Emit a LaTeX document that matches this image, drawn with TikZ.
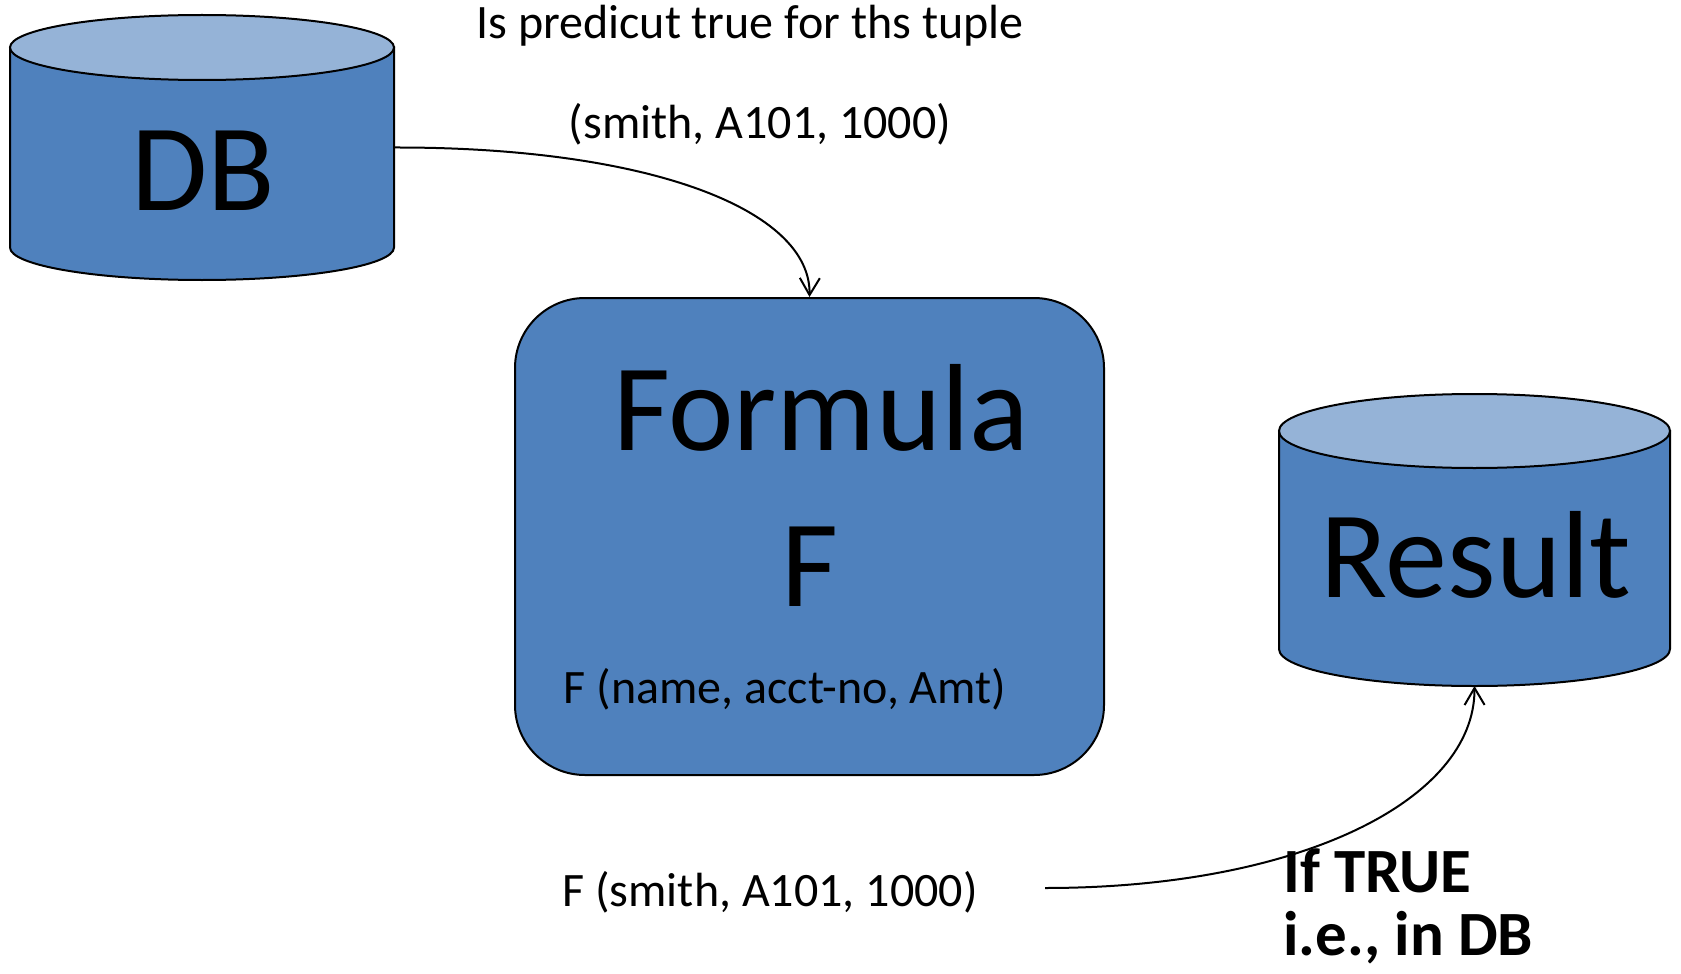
\documentclass[tikz,border=0pt]{standalone}
\usepackage{fontspec}
\setmainfont{Carlito}
\usetikzlibrary{arrows.meta}

\definecolor{dbblue}{HTML}{4F81BD}
\definecolor{dbtop}{HTML}{95B3D7}

\tikzset{
  store/.style={inner sep=0pt, outer sep=0pt},
  formulabox/.style={draw=black, line width=1pt, fill=dbblue, rounded corners=35pt,
    minimum width=294.5pt, minimum height=238.5pt},
  bigtext/.style={font=\fontsize{62}{78}\selectfont, inner sep=0pt},
  note/.style={font=\fontsize{24}{29}\selectfont, inner sep=0pt},
  verdict/.style={font=\fontsize{31.5}{31.5}\selectfont\bfseries, inner sep=0pt, align=left},
  link/.style={-{Straight Barb[length=8.5pt,width=10pt]}, line width=1pt},
}

% cylinder drawn over a store node: node name, half width, end radius
\newcommand{\storeshape}[3]{%
  \draw[line width=1pt, fill=dbblue] ([yshift=-#3]#1.north west) -- ([yshift=#3]#1.south west)
    arc[start angle=180, end angle=360, x radius=#2, y radius=#3]
    -- ([yshift=-#3]#1.north east) -- cycle;
  \draw[line width=1pt, fill=dbtop] ([yshift=-#3]#1.north) ellipse[x radius=#2, y radius=#3];
}

\begin{document}
\begin{tikzpicture}[x=0.5pt,y=-0.5pt]
\useasboundingbox (0,0) rectangle (1681,974);

% the two tables
\node[store, minimum width=192pt, minimum height=132.5pt] (db) at (202,147.5) {};
\node[store, minimum width=195.5pt, minimum height=146pt] (result) at (1474.5,540) {};
\storeshape{db}{96pt}{16.25pt}
\storeshape{result}{97.75pt}{18.5pt}
\node[bigtext, anchor=base] (dbname) at (203,210) {DB};
\node[bigtext, anchor=base] (resultname) at (1476,597) {Result};

% the formula
\node[formulabox] (formula) at (809.5,536.5) {};
\node[bigtext, anchor=base] (formulaname) at (821,450) {Formula};
\node[bigtext, anchor=base] (fname) at (810,606) {F};
\node[note] (signature) at (785,689) {F (name, acct-no, Amt)};

% texts
\node[note] (question) at (750,26) {Is predicut true for ths tuple};
\node[note] (tuple) at (760,124) {(smith, A101, 1000)};
\node[note] (call) at (770,892) {F (smith, A101, 1000)};
\node[verdict, anchor=base west] (verdict) at (1283,955) {If TRUE\\i.e., in DB};

% arrows
\coordinate (tail) at (1045,888);
\draw[link] (db.east) .. controls (650,147) and (811,210) .. (formula.north);
\draw[link] (tail) .. controls (1300,888) and (1475,800) .. (result.south);
\end{tikzpicture}
\end{document}
